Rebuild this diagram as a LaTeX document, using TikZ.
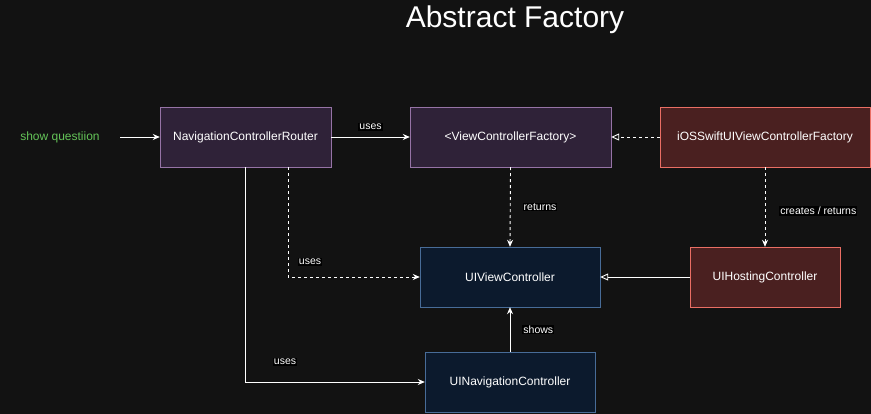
\documentclass[tikz,border=0pt]{standalone}
\usepackage{fontspec}
\setmainfont{Liberation Sans}
\usetikzlibrary{arrows.meta}
\usetikzlibrary{positioning}

\definecolor{bgdark}{RGB}{18,18,18}
\definecolor{purplefill}{RGB}{47,34,56}
\definecolor{purpleline}{RGB}{150,115,166}
\definecolor{redfill}{RGB}{74,32,32}
\definecolor{redline}{RGB}{234,110,100}
\definecolor{bluefill}{RGB}{12,26,45}
\definecolor{blueline}{RGB}{72,108,152}
\definecolor{greentext}{RGB}{100,196,88}

\begin{document}
\begin{tikzpicture}
  [
    x=1pt, y=-1pt,
    >={Stealth[length=7pt,width=6pt]},
    every node/.style = {font=\fontsize{12}{14}\selectfont, text=white},
    purplebox/.style = {draw=purpleline, fill=purplefill, minimum height=60pt, inner sep=0pt},
    redbox/.style    = {draw=redline, fill=redfill, minimum height=60pt, inner sep=0pt},
    bluebox/.style   = {draw=blueline, fill=bluefill, minimum height=60pt, inner sep=0pt},
    lbl/.style       = {fill=black, inner sep=1pt, font=\fontsize{10.5}{12}\selectfont},
    link/.style      = {draw=white, line width=0.9pt},
    dashlink/.style  = {draw=white, line width=0.9pt, dash pattern=on 3pt off 3pt},
    impl/.style      = {-{Triangle[open,length=8pt,width=7pt,fill=bgdark]}},
  ]

  % background and frame
  \fill[bgdark] (0,0) rectangle (871,414);
  \useasboundingbox (0,0) rectangle (871,414);

  \node (title) at (515,20) [font=\fontsize{30}{34}\selectfont] {Abstract Factory};

  % the boxes
  \node (start) at (60,137) [text=greentext] {show questiion};
  \node (router) at (245.5,137) [purplebox, minimum width=171pt] {NavigationControllerRouter};
  \node (factory) at (510.5,137) [purplebox, minimum width=201pt] {<ViewControllerFactory>};
  \node (iosfactory) at (765,137) [redbox, minimum width=210pt] {iOSSwiftUIViewControllerFactory};
  \node (vc) at (510,277) [bluebox, minimum width=180pt] {UIViewController};
  \node (hosting) at (765,277) [redbox, minimum width=150pt] {UIHostingController};
  \node (navc) at (510,382) [bluebox, minimum width=170pt] {UINavigationController};

  \coordinate (startend) at (120,137);
  \coordinate (dashcorner) at (288,277);
  \coordinate (solidcorner) at (245,382);

  % connectors
  \draw[link,->] (startend) -- (router.west);
  \draw[link,->] (router.east) -- node (uses1) [lbl, above=6pt] {uses} (factory.west);
  \draw[dashlink,impl] (iosfactory.west) -- (factory.east);
  \draw[dashlink,->] (factory.south) -- node (returns) [lbl, right=12pt] {returns} (vc.north);
  \draw[dashlink,->] (iosfactory.south) -- node (creates) [lbl, right=14pt, yshift=-4pt] {creates / returns} (hosting.north);
  \draw[link,impl] (hosting.west) -- (vc.east);
  \draw[dashlink,->] (router.south -| dashcorner) -- (dashcorner) -- (vc.west);
  \node (uses2) at (310,262) [lbl] {uses};
  \draw[link,->] (router.south -| solidcorner) -- (solidcorner) -- (navc.west);
  \node (uses3) at (285,362) [lbl] {uses};
  \draw[link,->] (navc.north) -- node (shows) [lbl, right=12pt] {shows} (vc.south);

\end{tikzpicture}
\end{document}
